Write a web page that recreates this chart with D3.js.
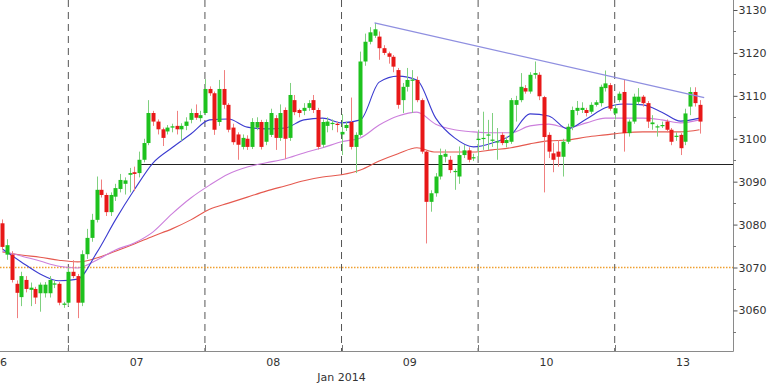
<!DOCTYPE html>
<html><head><meta charset="utf-8">
<script src="https://cdn.jsdelivr.net/npm/d3@7"></script>
<style>html,body{margin:0;padding:0;background:#fff;}svg{display:block;}</style>
</head><body>
<svg id="c" width="768" height="384"></svg>
<script>
// ---- data ----
const openP = [3080.3,3073.0,3073.0,3066.2,3063.1,3067.1,3064.8,3065.0,3064.0,3064.0,3064.0,3066.0,3066.2,3061.3,
3061.8,3069.0,3068.0,3061.8,3073.1,3076.9,3081.1,3088.1,3086.9,3082.9,3086.5,3088.3,3089.5,3091.6,3092.2,3092.0,3095.1,3099.0,3106.0,3104.0,3102.2,3101.7,3102.6,3103.0,3102.2,3103.0,3104.4,3106.0,3104.8,
3106.0,3111.6,3110.6,3103.9,3111.6,3107.9,3102.6,3101.0,3098.1,3100.0,3098.1,3102.6,3103.9,3099.3,3100.9,3104.8,3100.2,3106.7,3100.2,3109.0,3106.7,3106.5,3107.2,3109.0,3106.7,3098.6,3103.0,3103.5,3103.5,
3101.0,3102.5,3103.9,3098.1,3100.9,3118.0,3122.6,3124.0,3123.8,3121.1,3119.9,3119.1,3116.0,3109.0,3112.1,3113.5,3113.7,3109.0,3097.0,3085.3,3087.3,3091.2,3095.8,3095.1,3092.3,3091.2,3096.2,3097.3,3095.5,
3099.7,3100.0,3100.8,3099.6,3099.2,3100.9,3099.0,3099.3,3107.9,3109.0,3111.8,3111.0,3114.9,3114.9,3109.7,3100.9,3096.6,3097.0,3095.8,3099.3,3102.8,3106.5,3106.7,3106.7,3106.3,3107.9,3108.3,3111.8,3112.5,
3105.9,3109.0,3110.9,3101.3,3104.0,3108.6,3109.8,3108.3,3103.4,3102.7,3103.0,3104.0,3102.1,3100.5,3100.9,3099.3,3107.5,3110.9,3107.9];
const highP = [3081.2,3076.6,3073.8,3067.0,3069.0,3068.0,3066.5,3065.5,3066.5,3066.6,3068.0,3067.0,3066.6,3062.0,
3070.0,3071.7,3068.5,3074.0,3079.0,3082.5,3091.2,3090.5,3087.4,3087.5,3089.5,3091.8,3091.0,3093.2,3093.5,3097.0,3100.0,3109.0,3106.5,3104.5,3102.6,3103.2,3103.5,3106.5,3103.6,3105.0,3107.0,3108.0,3106.5,
3113.9,3112.2,3111.0,3113.7,3116.0,3108.3,3103.5,3101.5,3101.0,3100.8,3104.8,3105.0,3104.4,3104.5,3107.0,3105.5,3108.0,3107.3,3113.0,3110.2,3107.0,3108.3,3109.0,3110.2,3107.2,3104.5,3105.0,3104.5,3104.0,
3105.7,3104.0,3109.6,3101.5,3120.3,3124.5,3126.0,3127.0,3125.0,3121.8,3120.3,3119.5,3116.5,3113.0,3116.5,3116.0,3114.5,3109.4,3097.3,3088.0,3092.0,3097.7,3097.5,3096.0,3093.0,3098.2,3098.5,3098.0,3096.5,
3102.1,3106.3,3104.4,3106.0,3102.5,3101.5,3100.5,3109.5,3110.0,3115.3,3112.5,3115.5,3118.0,3115.5,3110.0,3101.5,3099.0,3099.7,3100.0,3103.5,3107.5,3108.8,3108.5,3107.2,3108.5,3109.0,3112.6,3115.9,3113.0,
3108.0,3111.0,3113.7,3104.5,3110.5,3111.8,3110.2,3108.8,3105.5,3103.3,3104.0,3104.5,3102.5,3101.5,3101.3,3107.0,3112.0,3112.0,3109.0];
const lowP = [3074.0,3071.8,3066.5,3058.2,3061.0,3064.2,3061.0,3061.5,3059.7,3063.0,3063.0,3065.2,3061.2,3060.6,
3061.0,3067.5,3058.2,3061.0,3072.0,3076.0,3080.5,3086.3,3082.0,3082.0,3085.5,3087.5,3087.0,3087.5,3087.8,3091.0,3094.5,3098.5,3103.0,3101.0,3098.3,3101.0,3101.5,3101.0,3099.5,3102.0,3103.6,3104.4,3104.0,
3105.5,3110.0,3100.9,3103.0,3107.0,3101.5,3098.6,3095.1,3097.5,3097.4,3097.6,3102.0,3097.5,3098.5,3100.4,3097.4,3099.5,3095.3,3099.5,3105.5,3105.0,3105.5,3106.5,3106.0,3097.5,3098.0,3101.5,3102.0,3101.5,
3096.2,3101.8,3097.5,3092.0,3100.5,3117.0,3122.0,3123.5,3118.4,3119.5,3117.5,3115.5,3107.0,3106.0,3111.0,3106.0,3108.5,3096.5,3075.6,3083.0,3086.5,3090.5,3094.5,3092.0,3088.1,3089.5,3095.5,3094.5,3094.8,
3095.1,3097.4,3097.4,3098.1,3095.1,3098.5,3098.0,3098.8,3104.0,3108.5,3110.5,3110.5,3114.0,3109.0,3087.5,3095.5,3092.2,3093.5,3091.2,3098.8,3102.0,3105.5,3106.0,3105.2,3105.8,3107.5,3107.5,3111.0,3106.5,
3104.5,3108.5,3097.0,3100.5,3103.5,3108.0,3107.5,3102.5,3102.1,3100.5,3102.5,3101.5,3098.5,3099.5,3096.2,3098.5,3105.5,3107.5,3101.2];
const closeP = [3074.8,3075.2,3067.1,3064.1,3068.0,3065.0,3065.3,3063.0,3066.0,3066.0,3067.1,3066.3,3061.8,3061.6,
3069.0,3068.0,3061.8,3073.1,3076.9,3081.1,3088.1,3086.9,3082.9,3086.9,3088.5,3090.4,3090.3,3092.0,3091.8,3095.1,3099.0,3106.0,3104.0,3102.2,3100.2,3102.6,3102.9,3102.2,3103.0,3104.0,3106.0,3104.9,3105.5,
3111.6,3110.6,3102.1,3111.6,3107.9,3102.1,3099.2,3098.6,3100.2,3098.1,3103.9,3103.9,3098.1,3103.9,3106.0,3100.2,3106.0,3100.0,3110.2,3106.2,3106.0,3107.2,3108.3,3106.7,3098.1,3103.9,3104.0,3103.7,3103.2,
3101.6,3103.2,3098.1,3100.9,3118.0,3122.6,3124.8,3125.5,3121.1,3120.0,3119.1,3116.8,3107.9,3112.1,3113.7,3113.8,3109.0,3097.0,3085.3,3087.3,3091.2,3096.2,3096.5,3092.7,3092.5,3096.2,3097.3,3095.1,3095.7,
3100.0,3100.2,3101.0,3099.8,3099.4,3099.0,3099.7,3109.0,3109.0,3112.1,3111.0,3114.9,3115.3,3109.9,3100.4,3097.0,3095.1,3095.8,3099.3,3102.8,3106.7,3107.2,3107.2,3106.0,3107.9,3108.5,3112.1,3112.9,3107.0,
3107.1,3110.5,3101.3,3104.0,3109.8,3109.8,3108.3,3104.0,3103.8,3102.9,3103.2,3102.1,3099.3,3100.7,3097.8,3105.9,3110.9,3108.3,3104.0];

// moving averages, read at every 4th bar
const maIndex = d3.range(0, 149, 4);
const maFast = [3074.3,3071.3,3068.5,3066.9,3067.3,3073.4,3081.1,3088.1,3094.4,3097.9,3101.1,3104.4,3104.6,3102.7,3102.3,3102.5,3104.4,3104.8,3103.7,3104.4,3113.2,3114.6,3113.7,3104.8,3100.2,3098.1,3099.0,3100.9,3105.8,3105.3,3102.3,3104.6,3107.2,3108.1,3107.9,3106.2,3104.1,3104.8];
const maMid = [3073.8,3072.7,3071.5,3070.3,3069.9,3071.7,3074.1,3075.7,3078.3,3082.5,3086.2,3089.2,3091.8,3093.4,3094.4,3095.3,3096.7,3097.9,3099.3,3100.2,3103.2,3105.3,3106.2,3103.4,3102.1,3101.6,3101.4,3101.4,3103.0,3103.4,3102.5,3103.7,3104.8,3104.8,3104.8,3104.4,3103.7,3104.4];
const maSlow = [3073.6,3072.9,3072.4,3071.7,3071.3,3072.2,3073.8,3075.5,3077.3,3079.0,3081.1,3083.6,3085.0,3086.4,3087.8,3089.0,3090.2,3091.1,3091.6,3092.7,3094.8,3096.5,3097.9,3096.9,3096.9,3096.9,3097.4,3097.9,3098.8,3099.5,3099.7,3100.4,3100.9,3101.4,3101.6,3101.6,3101.6,3102.1];

const dayLabels = ["06","07","08","09","10","13"];
const dayStart = [-15, 14, 43, 72, 101, 130];   // bar index where each day begins
const barsPerDay = 29;
const monthLabel = "Jan 2014";
const yTicks = [3060,3070,3080,3090,3100,3110,3120,3130];
const supportLevel = 3094, supportFrom = 29.4;
const refLevel = 3070;
const trendFrom = [79, 3127.0], trendTo = [149, 3109.6];

// ---- drawing ----
const svg = d3.select("#c");
const axisX = 733, axisY = 351;
const x = d3.scaleLinear().domain([0, 148]).range([2.4, 699.5]);
const y = d3.scaleLinear().domain([3070, 3130]).range([267.5, 10]);

const plot = svg.append("g");
plot.append("clipPath").attr("id","clip").append("rect").attr("x",0).attr("y",0).attr("width",axisX).attr("height",axisY);
const g = plot.append("g").attr("clip-path","url(#clip)");

// day separators
dayStart.slice(1).forEach(s => {
  g.append("line").attr("x1",x(s)).attr("x2",x(s)).attr("y1",0).attr("y2",axisY)
   .attr("stroke","#555").attr("stroke-width",1).attr("stroke-dasharray","7,5");
});

// reference lines
g.append("line").attr("x1",0).attr("x2",axisX).attr("y1",y(refLevel)).attr("y2",y(refLevel))
 .attr("stroke","#f0a030").attr("stroke-width",1.3).attr("stroke-dasharray","1.5,1.5");
g.append("line").attr("x1",x(supportFrom)).attr("x2",axisX).attr("y1",y(supportLevel)).attr("y2",y(supportLevel))
 .attr("stroke","#222").attr("stroke-width",1);

// moving averages
const lineGen = d3.line().x((d,i)=>x(maIndex[i])).y(d=>y(d)).curve(d3.curveMonotoneX);
g.append("path").attr("d",lineGen(maSlow)).attr("fill","none").attr("stroke","#e5594f").attr("stroke-width",1.1);
g.append("path").attr("d",lineGen(maMid)).attr("fill","none").attr("stroke","#cc7fdc").attr("stroke-width",1.1);
g.append("path").attr("d",lineGen(maFast)).attr("fill","none").attr("stroke","#3b3bd0").attr("stroke-width",1.1);

// candles
const bars = openP.map((o,i)=>({i, o, h:highP[i], l:lowP[i], c:closeP[i]}));
const up = "#1ec21e", dn = "#e81818";
const cg = g.append("g");
cg.selectAll("line.w").data(bars).join("line").attr("class","w")
  .attr("x1",d=>Math.round(x(d.i))+0.5).attr("x2",d=>Math.round(x(d.i))+0.5)
  .attr("y1",d=>y(d.h)).attr("y2",d=>y(d.l))
  .attr("stroke",d=>d.c>=d.o?"#7fd07f":"#f08080").attr("stroke-width",1);
cg.selectAll("rect.b").data(bars).join("rect").attr("class","b")
  .attr("x",d=>Math.round(x(d.i))-1.5).attr("width",4)
  .attr("y",d=>y(Math.max(d.o,d.c)))
  .attr("height",d=>Math.max(1.2, Math.abs(y(d.o)-y(d.c))))
  .attr("fill",d=>d.c>=d.o?up:dn);

// trend line
g.append("line").attr("x1",x(trendFrom[0])).attr("y1",y(trendFrom[1]))
 .attr("x2",x(trendTo[0])).attr("y2",y(trendTo[1]))
 .attr("stroke","#8f8fe0").attr("stroke-width",1.2);

// axes
svg.append("line").attr("x1",0).attr("x2",axisX+0.5).attr("y1",axisY+0.5).attr("y2",axisY+0.5).attr("stroke","#8a8a8a");
svg.append("line").attr("x1",axisX+0.5).attr("x2",axisX+0.5).attr("y1",0).attr("y2",axisY+0.5).attr("stroke","#8a8a8a");

const yAxis = d3.axisRight(y).tickValues(yTicks).tickSize(4).tickPadding(1).tickFormat(d3.format("d"));
const ya = svg.append("g").attr("transform",`translate(${axisX+0.5},0)`).call(yAxis);
ya.select(".domain").remove();
ya.selectAll("line").attr("stroke","#555");
ya.selectAll("text").attr("font-family","DejaVu Sans, sans-serif").attr("font-size",11).attr("fill","#333");
const minor = d3.range(3055, 3131, 10);
svg.append("g").selectAll("line").data(minor).join("line")
  .attr("x1",axisX).attr("x2",axisX+3).attr("y1",d=>Math.round(y(d))+0.5).attr("y2",d=>Math.round(y(d))+0.5)
  .attr("stroke","#777");

// x axis ticks & labels
dayStart.slice(1).forEach(s=>{
  svg.append("line").attr("x1",Math.round(x(s))+0.5).attr("x2",Math.round(x(s))+0.5).attr("y1",axisY-6).attr("y2",axisY)
    .attr("stroke","#777");
});
dayLabels.forEach((lab,k)=>{
  svg.append("text").attr("x",x(dayStart[k]+barsPerDay/2)).attr("y",axisY+15)
    .attr("text-anchor","middle").attr("font-family","DejaVu Sans, sans-serif").attr("font-size",11).attr("fill","#333").text(lab);
});
svg.append("text").attr("x",x(dayStart[3])).attr("y",axisY+30).attr("text-anchor","middle")
  .attr("font-family","DejaVu Sans, sans-serif").attr("font-size",11).attr("fill","#333").text(monthLabel);
</script>
</body></html>
